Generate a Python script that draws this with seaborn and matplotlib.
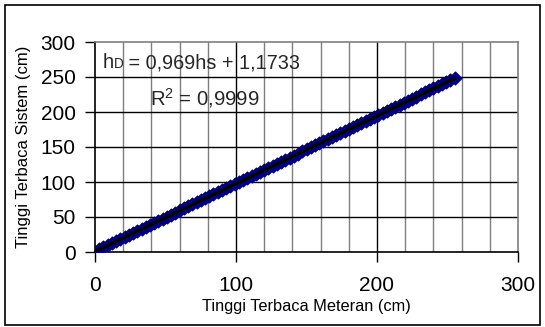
import matplotlib
matplotlib.use("Agg")
import matplotlib.pyplot as plt
import seaborn as sns
import pandas as pd
from matplotlib.patches import Rectangle

meteran = [0, 3, 6, 9, 12, 15, 18, 21, 24, 27, 30, 33, 36, 39, 42, 45, 48, 51, 54, 57,
           60, 63, 66, 69, 72, 75, 78, 81, 84, 87, 90, 93, 96, 99, 102, 105, 108, 111,
           114, 117, 120, 123, 126, 129, 132, 135, 138, 141, 144, 147, 150, 153, 156,
           159, 162, 165, 168, 171, 174, 177, 180, 183, 186, 189, 192, 195, 198, 201,
           204, 207, 210, 213, 216, 219, 222, 225, 228, 231, 234, 237, 240, 243, 246,
           249, 252, 255]
sistem = [0.5, 4.1, 7.0, 9.9, 12.8, 15.7, 18.6, 21.5, 24.4, 27.3, 30.2, 33.1, 36.1,
          39.0, 41.9, 44.8, 47.7, 50.6, 53.5, 56.4, 59.3, 62.2, 65.1, 68.0, 71.0, 73.8,
          76.8, 79.7, 82.6, 85.5, 88.4, 91.3, 94.2, 97.1, 100.0, 102.9, 105.8, 108.7,
          111.6, 114.5, 117.5, 120.4, 123.3, 126.2, 129.1, 132.0, 134.9, 137.8, 140.7,
          143.6, 146.5, 149.4, 152.3, 155.2, 158.2, 161.1, 164.0, 166.9, 169.8, 172.7,
          175.6, 178.5, 181.4, 184.3, 187.2, 190.1, 193.0, 195.9, 198.9, 201.8, 204.7,
          207.6, 210.5, 213.4, 216.3, 219.2, 222.1, 225.0, 227.9, 230.8, 233.7, 236.6,
          239.5, 242.5, 245.6, 249.0]
x_ticks = [0, 100, 200, 300]
y_ticks = [0, 50, 100, 150, 200, 250, 300]
x_label = "Tinggi Terbaca Meteran (cm)"
y_label = "Tinggi Terbaca Sistem (cm)"

df = pd.DataFrame({"meteran": meteran, "sistem": sistem})

sns.set_theme(style="white")
plt.rcParams["font.family"] = ["Liberation Sans", "DejaVu Sans"]

W, H = 545, 327
fig = plt.figure(figsize=(W / 100, H / 100), dpi=100)
ax = fig.add_axes([95 / W, 1 - 252 / H, (518 - 95) / W, (252 - 42) / H])

# gridlines
for xv in range(20, 300, 20):
    ax.axvline(xv, color="black" if xv % 100 == 0 else "#7f7f7f", lw=1, zorder=1)
for yv in y_ticks[1:-1]:
    ax.axhline(yv, color="black", lw=1, zorder=1)

sns.scatterplot(data=df, x="meteran", y="sistem", marker="D", s=42,
                color="#000080", edgecolor="#000080", linewidth=1, ax=ax, zorder=3)
sns.regplot(data=df, x="meteran", y="sistem", scatter=False, ci=None,
            line_kws={"color": "black", "lw": 2.5, "zorder": 4}, ax=ax)

ax.set_xlim(0, 300)
ax.set_ylim(0, 300)
ax.set_xticks(x_ticks)
ax.set_yticks(y_ticks)
ax.tick_params(axis="x", direction="out", length=7, width=1, color="black",
               labelsize=15, pad=10, bottom=True, labelcolor="black")
ax.tick_params(axis="y", direction="out", length=7, width=1, color="black",
               labelsize=15, pad=7, left=True, labelcolor="black")
for side in ["left", "bottom"]:
    ax.spines[side].set_color("black")
    ax.spines[side].set_linewidth(1.2)
for side in ["top", "right"]:
    ax.spines[side].set_color("#7f7f7f")
    ax.spines[side].set_linewidth(1.2)
ax.set_xlabel(x_label, fontsize=11.8, labelpad=3, color="black")
ax.set_ylabel(y_label, fontsize=12, labelpad=7, color="black")

# equation text
t1 = ax.text(5.5, 263, "h", fontsize=14.6, va="baseline", ha="left", zorder=5)
t2 = ax.annotate("D", xy=(1, 0), xycoords=t1, fontsize=9.8, va="bottom", ha="left",
                 xytext=(0, 0.5), textcoords="offset points", zorder=5)
ax.annotate(" = 0,969hs + 1,1733", xy=(1, 0), xycoords=t2, fontsize=14.3,
            va="bottom", ha="left", xytext=(-0.3, -0.8), textcoords="offset points", zorder=5)
ax.text(39, 210, "R$^{\\mathregular{2}}$ = 0,9999", fontsize=14.6, va="baseline",
        ha="left", zorder=5)

# outer chart border
fig.patches.append(Rectangle((5 / W, 2 / H), 535 / W, 320 / H, transform=fig.transFigure,
                             fill=False, edgecolor="black", lw=1.2))

fig.savefig("out.png", dpi=100)
